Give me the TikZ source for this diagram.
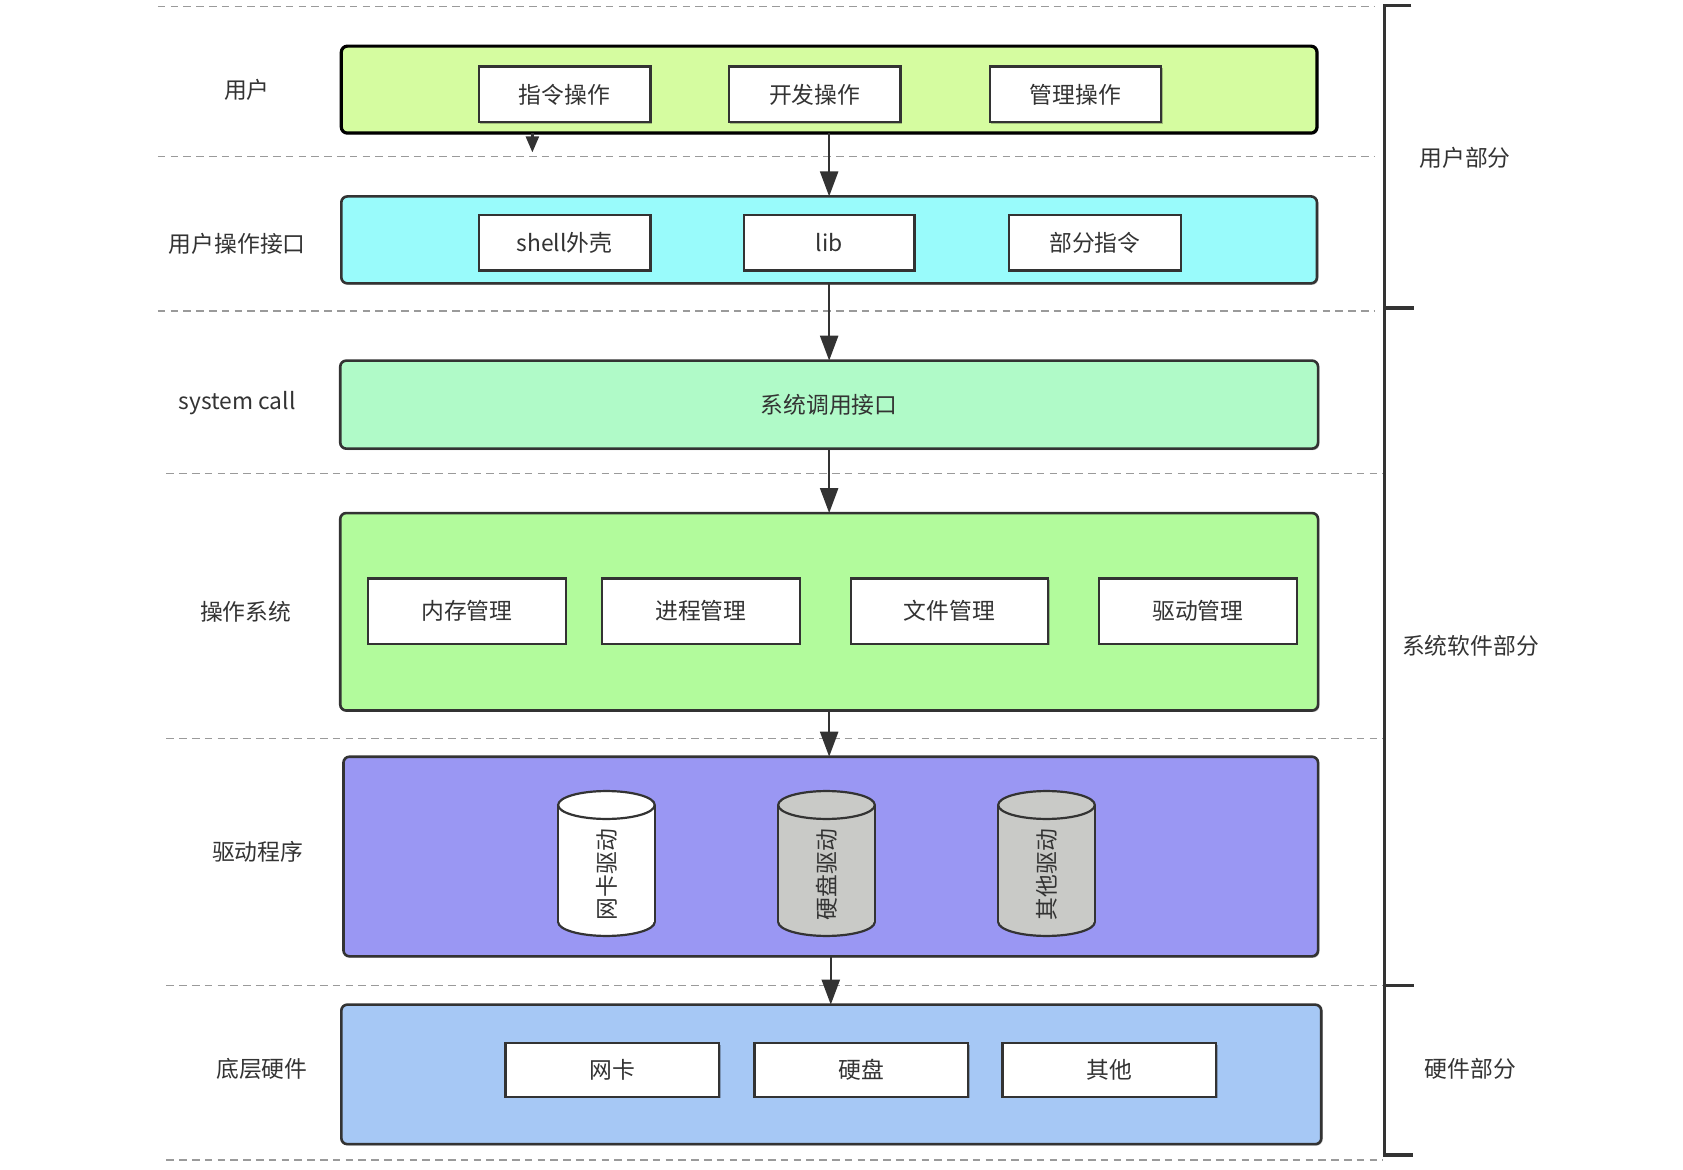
\documentclass[tikz,border=0pt]{standalone}
\usepackage{fontspec}
\setmainfont{Noto Sans CJK SC}
\usetikzlibrary{arrows.meta,shadows}
\newdimen\pu \pu=0.5367pt
\definecolor{ink}{HTML}{333333}
\definecolor{sepgray}{HTML}{9A9A9A}
\definecolor{userfill}{HTML}{D5FCA0}
\definecolor{apifill}{HTML}{99FBFB}
\definecolor{sysfill}{HTML}{B0FAC8}
\definecolor{osfill}{HTML}{B2FB9C}
\definecolor{drvfill}{HTML}{9A97F3}
\definecolor{hwfill}{HTML}{A6C8F5}
\definecolor{cylgray}{HTML}{C9CAC7}
\newcommand\mycyl[4]{%
  \fill[#2] (#1-45,750) rectangle (#1+45,859);
  \draw[cylst, fill=#2] (#1,859) ellipse [x radius=45, y radius=13];
  \fill[#2] (#1-45,750) rectangle (#1+45,859);
  \draw[cylst] (#1-45,750) -- (#1-45,859) (#1+45,750) -- (#1+45,859);
  \draw[cylst, fill=#2] (#1,750) ellipse [x radius=45, y radius=13];
  \node[rotate=90] (#3) at (#1,815) {#4};
}
\begin{document}
\begin{tikzpicture}[x=0.5367pt,y=-0.5367pt,
  font=\fontsize{11.4pt}{13pt}\selectfont, text=ink,
  layer/.style={draw=ink, line width=1.3pt, rounded corners=3pt, inner sep=0pt, outer sep=0pt,
    drop shadow={shadow xshift=0.7pt, shadow yshift=-0.7pt, opacity=0.25, fill=black}},
  sub/.style={draw=ink, line width=1.1pt, fill=white, inner sep=0pt, outer sep=0pt,
    drop shadow={shadow xshift=0.7pt, shadow yshift=-0.7pt, opacity=0.25, fill=black}},
  arr/.style={draw=ink, line width=1.2pt, -{Triangle[length=12.5pt,width=9pt]}},
  arrstub/.style={draw=ink, line width=1.2pt, -{Triangle[length=8pt,width=6.5pt]}},
  sepline/.style={draw=sepgray, line width=0.8pt, dash pattern=on 3.8pt off 2.6pt},
  cylst/.style={draw=ink, line width=1.1pt},
  brk/.style={draw=ink, line width=1.6pt, line join=miter},
]
\useasboundingbox (0,0) rectangle (1568,1090);

% separators
\foreach \yy in {6,146,290} \draw[sepline] (147,\yy) -- (1280,\yy);
\foreach \yy in {441,688,918,1081} \draw[sepline] (155,\yy) -- (1288,\yy);

% bracket
\draw[brk] (1315,5) -- (1290,5) -- (1290,1076) -- (1316,1076);
\draw[brk] (1290,287) -- (1317,287);
\draw[brk] (1290,918) -- (1317,918);

% layers
\node[layer, draw=black, line width=1.6pt, fill=userfill, minimum width=909\pu, minimum height=81\pu] (user) at (772.5,83.5) {};
\node[layer, fill=apifill, minimum width=909\pu, minimum height=81\pu] (api) at (772.5,223.5) {};
\node[layer, fill=sysfill, minimum width=911\pu, minimum height=82\pu] (sys) at (772.5,377) {系统调用接口};
\node[layer, fill=osfill, minimum width=911\pu, minimum height=184\pu] (os) at (772.5,570) {};
\node[layer, fill=drvfill, minimum width=908\pu, minimum height=186\pu] (drv) at (774,798) {};
\node[layer, fill=hwfill, minimum width=913\pu, minimum height=130\pu] (hw) at (774.5,1001) {};

% sub boxes
\node[sub, minimum width=160\pu, minimum height=52\pu] (u1) at (526,88) {指令操作};
\node[sub, minimum width=160\pu, minimum height=52\pu] (u2) at (759,88) {开发操作};
\node[sub, minimum width=160\pu, minimum height=52\pu] (u3) at (1002,88) {管理操作};

\node[sub, minimum width=160\pu, minimum height=52\pu] (a1) at (526,226) {shell外壳};
\node[sub, minimum width=159\pu, minimum height=52\pu] (a2) at (772.5,226) {lib};
\node[sub, minimum width=160\pu, minimum height=52\pu] (a3) at (1020,226) {部分指令};

\node[sub, minimum width=184\pu, minimum height=61\pu] (o1) at (435,569.5) {内存管理};
\node[sub, minimum width=184\pu, minimum height=61\pu] (o2) at (653,569.5) {进程管理};
\node[sub, minimum width=184\pu, minimum height=61\pu] (o3) at (884.5,569.5) {文件管理};
\node[sub, minimum width=184\pu, minimum height=61\pu] (o4) at (1116,569.5) {驱动管理};

\node[sub, minimum width=199\pu, minimum height=50\pu] (h1) at (570.5,997) {网卡};
\node[sub, minimum width=199\pu, minimum height=50\pu] (h2) at (802.5,997) {硬盘};
\node[sub, minimum width=199\pu, minimum height=50\pu] (h3) at (1033.5,997) {其他};

% cylinders
\mycyl{565}{white}{c1}{网卡驱动}
\mycyl{770}{cylgray}{c2}{硬盘驱动}
\mycyl{975}{cylgray}{c3}{其他驱动}

% arrows
\coordinate (stub) at (496,142);
\draw[arrstub] (user.south -| stub) -- (stub);
\draw[arr] (user.south) -- (api.north);
\draw[arr] (api.south) -- (sys.north);
\draw[arr] (sys.south) -- (os.north);
\draw[arr] (os.south) -- (os.south |- drv.north);
\draw[arr] (drv.south) -- (drv.south |- hw.north);

% left labels
\node (l1) at (230,84) {用户};
\node (l2) at (221,227) {用户操作接口};
\node (l3) at (221,376) {system call};
\node (l4) at (229,570) {操作系统};
\node (l5) at (240,794) {驱动程序};
\node (l6) at (244,996) {底层硬件};

% right labels
\node (r1) at (1365,147) {用户部分};
\node (r2) at (1370,602) {系统软件部分};
\node (r3) at (1370,996) {硬件部分};
\end{tikzpicture}
\end{document}
